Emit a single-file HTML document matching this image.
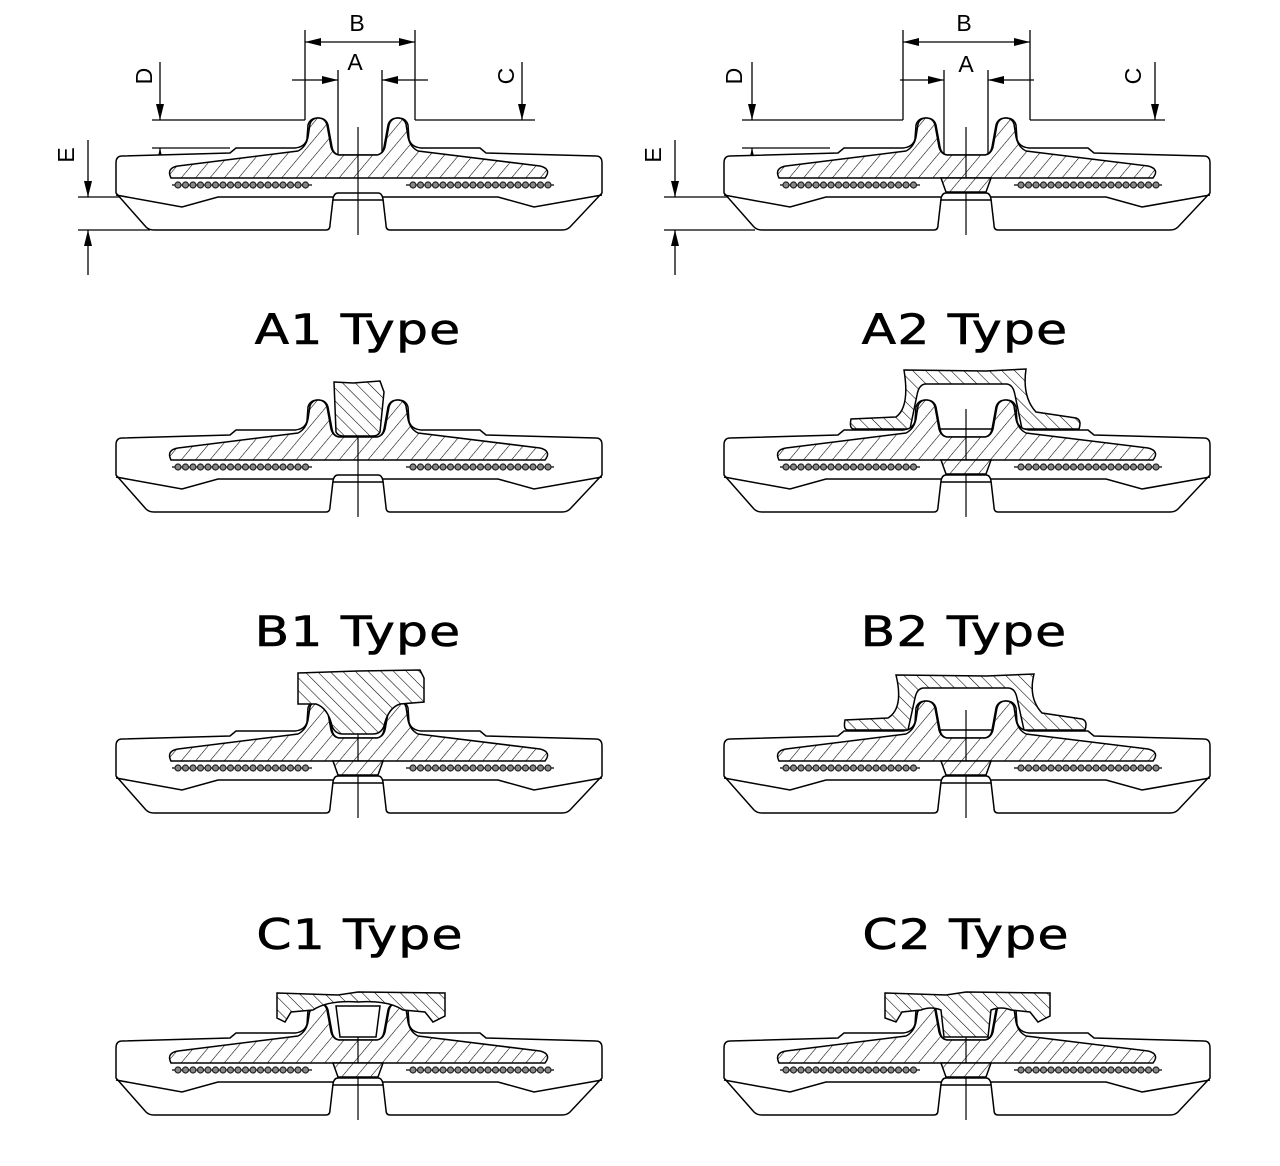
<!DOCTYPE html>
<html><head><meta charset="utf-8"><style>
html,body{margin:0;padding:0;background:#fff}
svg{display:block}
text{font-family:"Liberation Sans",Arial,sans-serif;fill:#000}
.t{font-family:"DejaVu Sans",sans-serif}
</style></head><body>
<svg width="1280" height="1166" viewBox="0 0 1280 1166" xmlns="http://www.w3.org/2000/svg">
<defs>
<pattern id="h1" patternUnits="userSpaceOnUse" width="11" height="11" patternTransform="rotate(40)">
<rect width="11" height="11" fill="#fff"/><line x1="0" y1="0" x2="0" y2="11" stroke="#000" stroke-width="1.1"/></pattern>
<pattern id="h2" patternUnits="userSpaceOnUse" width="9" height="9" patternTransform="rotate(-45)">
<rect width="9" height="9" fill="#fff"/><line x1="0" y1="0" x2="0" y2="9" stroke="#000" stroke-width="1.1"/></pattern>
<g id="cords">
<line x1="-186" y1="30" x2="-46" y2="30" stroke="#000" stroke-width="1.3"/>
<line x1="48" y1="30" x2="196" y2="30" stroke="#000" stroke-width="1.3"/>
<g fill="#888" stroke="#222" stroke-width="1.2">
<circle cx="-180" cy="30" r="3"/><circle cx="-172.5" cy="30" r="3"/><circle cx="-165" cy="30" r="3"/><circle cx="-157.5" cy="30" r="3"/><circle cx="-150" cy="30" r="3"/><circle cx="-142.5" cy="30" r="3"/><circle cx="-135" cy="30" r="3"/><circle cx="-127.5" cy="30" r="3"/><circle cx="-120" cy="30" r="3"/><circle cx="-112.5" cy="30" r="3"/><circle cx="-105" cy="30" r="3"/><circle cx="-97.5" cy="30" r="3"/><circle cx="-90" cy="30" r="3"/><circle cx="-82.5" cy="30" r="3"/><circle cx="-75" cy="30" r="3"/><circle cx="-67.5" cy="30" r="3"/><circle cx="-60" cy="30" r="3"/><circle cx="-52.5" cy="30" r="3"/>
<circle cx="55" cy="30" r="3"/><circle cx="62.5" cy="30" r="3"/><circle cx="70" cy="30" r="3"/><circle cx="77.5" cy="30" r="3"/><circle cx="85" cy="30" r="3"/><circle cx="92.5" cy="30" r="3"/><circle cx="100" cy="30" r="3"/><circle cx="107.5" cy="30" r="3"/><circle cx="115" cy="30" r="3"/><circle cx="122.5" cy="30" r="3"/><circle cx="130" cy="30" r="3"/><circle cx="137.5" cy="30" r="3"/><circle cx="145" cy="30" r="3"/><circle cx="152.5" cy="30" r="3"/><circle cx="160" cy="30" r="3"/><circle cx="167.5" cy="30" r="3"/><circle cx="175" cy="30" r="3"/><circle cx="182.5" cy="30" r="3"/><circle cx="190" cy="30" r="3"/>
</g></g>
<g id="base" stroke="#000" stroke-width="1.5">
<path fill="#fff" d="M0,0 L-20,0 Q-25,-2 -26,-8 L-30,-30 Q-32,-37 -40,-37 Q-48,-37 -50,-30 L-51,-16 Q-53,-8 -63,-7 L-122,-7 L-128,-2 L-236,1 Q-242,1 -242,8 L-242,38 L-212,72 Q-209,75 -204,75 L-32,75 Q-28,75 -28,70 L-25,44 Q-24,38 -20,38 L20,38 Q24,38 25,44 L28,70 Q28,75 32,75 L204,75 Q209,75 212,72 L244,38 L244,8 Q244,1 238,1 L128,-2 L122,-7 L63,-7 Q53,-8 51,-16 L50,-30 Q48,-37 40,-37 Q32,-37 30,-30 L26,-8 Q25,-2 20,0 Z"/>
<path fill="none" d="M-242,40 L-176,52 L-140,42 L-25,42 M25,42 L140,42 L176,52 L244,40 M-25,45 L25,45"/>
<path fill="url(#h1)" d="M-19,0 Q-25,-1 -27,-8 L-31,-30 Q-33,-37 -40,-37 Q-46,-37 -48,-31 L-50,-18 Q-52,-8 -60,-4 L-180,11 Q-192,13 -187,23 L187,23 Q194,14 182,11 L60,-4 Q52,-8 50,-18 L48,-31 Q46,-37 40,-37 Q33,-37 31,-30 L27,-8 Q25,-1 19,0 Z"/>
<use href="#cords"/>
<line x1="0" y1="-28" x2="0" y2="80" stroke-width="1.2"/>
</g>
<g id="base2" stroke="#000" stroke-width="1.5">
<use href="#base"/>
<path fill="url(#h1)" d="M-25,23 L25,23 L20,37 L-20,37 Z"/>
</g>
<marker id="ar" markerWidth="16" markerHeight="8" refX="16" refY="4" orient="auto" markerUnits="userSpaceOnUse"><path d="M0,0 L16,4 L0,8 Z" fill="#000"/></marker>
</defs>

<g stroke="#000" stroke-width="1.3" fill="none">
<line x1="305" y1="30" x2="305" y2="120"/><line x1="415" y1="30" x2="415" y2="120"/>
<line x1="330" y1="42" x2="305" y2="42" marker-end="url(#ar)"/><line x1="390" y1="42" x2="415" y2="42" marker-end="url(#ar)"/><line x1="330" y1="42" x2="390" y2="42"/>
<line x1="338" y1="70" x2="338" y2="155"/><line x1="382" y1="70" x2="382" y2="155"/>
<line x1="292" y1="80" x2="338" y2="80" marker-end="url(#ar)"/><line x1="428" y1="80" x2="382" y2="80" marker-end="url(#ar)"/>
<line x1="152" y1="120" x2="305" y2="120"/><line x1="152" y1="148" x2="230" y2="148"/>
<line x1="160" y1="62" x2="160" y2="120" marker-end="url(#ar)"/><line x1="160" y1="192" x2="160" y2="148" marker-end="url(#ar)"/>
<line x1="415" y1="120" x2="535" y2="120"/><line x1="470" y1="155" x2="530" y2="155"/>
<line x1="522" y1="62" x2="522" y2="120" marker-end="url(#ar)"/><line x1="522" y1="195" x2="522" y2="155" marker-end="url(#ar)"/>
<line x1="78" y1="197" x2="160" y2="197"/><line x1="78" y1="230" x2="150" y2="230"/>
<line x1="88" y1="140" x2="88" y2="197" marker-end="url(#ar)"/><line x1="88" y1="275" x2="88" y2="230" marker-end="url(#ar)"/>
<line x1="903" y1="30" x2="903" y2="120"/><line x1="1030" y1="30" x2="1030" y2="120"/>
<line x1="930" y1="42" x2="903" y2="42" marker-end="url(#ar)"/><line x1="1000" y1="42" x2="1030" y2="42" marker-end="url(#ar)"/><line x1="930" y1="42" x2="1000" y2="42"/>
<line x1="944" y1="70" x2="944" y2="155"/><line x1="988" y1="70" x2="988" y2="155"/>
<line x1="900" y1="80" x2="944" y2="80" marker-end="url(#ar)"/><line x1="1034" y1="80" x2="988" y2="80" marker-end="url(#ar)"/>
<line x1="742" y1="120" x2="903" y2="120"/><line x1="742" y1="148" x2="830" y2="148"/>
<line x1="752" y1="62" x2="752" y2="120" marker-end="url(#ar)"/><line x1="752" y1="192" x2="752" y2="148" marker-end="url(#ar)"/>
<line x1="1030" y1="120" x2="1165" y2="120"/><line x1="1080" y1="155" x2="1160" y2="155"/>
<line x1="1155" y1="62" x2="1155" y2="120" marker-end="url(#ar)"/><line x1="1155" y1="195" x2="1155" y2="155" marker-end="url(#ar)"/>
<line x1="664" y1="197" x2="760" y2="197"/><line x1="664" y1="230" x2="755" y2="230"/>
<line x1="675" y1="140" x2="675" y2="197" marker-end="url(#ar)"/><line x1="675" y1="275" x2="675" y2="230" marker-end="url(#ar)"/>
</g>
<g font-size="23">
<text x="357" y="31" text-anchor="middle">B</text>
<text x="355" y="70" text-anchor="middle">A</text>
<text x="964" y="31" text-anchor="middle">B</text>
<text x="966" y="72" text-anchor="middle">A</text>
<text transform="translate(152,76) rotate(-90)" text-anchor="middle">D</text>
<text transform="translate(514,76) rotate(-90)" text-anchor="middle">C</text>
<text transform="translate(74,155) rotate(-90)" text-anchor="middle">E</text>
<text transform="translate(742,76) rotate(-90)" text-anchor="middle">D</text>
<text transform="translate(1141,76) rotate(-90)" text-anchor="middle">C</text>
<text transform="translate(661,155) rotate(-90)" text-anchor="middle">E</text>
</g>
<use href="#base" transform="translate(358,155)"/>
<use href="#base2" transform="translate(966,155)"/>

<g class="t" font-size="42" stroke="#000" stroke-width="0.6" text-anchor="middle" letter-spacing="1">
<text class="t" transform="translate(358,344) scale(1.2,1)">A1 Type</text>
<text class="t" transform="translate(965,344) scale(1.2,1)">A2 Type</text>
<text class="t" transform="translate(358,646) scale(1.2,1)">B1 Type</text>
<text class="t" transform="translate(964,646) scale(1.2,1)">B2 Type</text>
<text class="t" transform="translate(360,949) scale(1.2,1)">C1 Type</text>
<text class="t" transform="translate(966,949) scale(1.2,1)">C2 Type</text>
</g>

<g transform="translate(358,437)" stroke="#000" stroke-width="1.5">
<use href="#base"/>
<path fill="url(#h2)" d="M-24,-55 L-5,-54 L22,-56 L26,-45 L22,-5 Q20,-1 15,-1 L-15,-1 Q-20,-1 -22,-5 Z"/>
</g>
<g transform="translate(966,437)" stroke="#000" stroke-width="1.5">
<path fill="url(#h2)" fill-rule="evenodd" d="M-62,-67 L20,-66 L60,-68 Q56,-40 70,-25 L110,-19 Q116,-17 113,-8 L-112,-8 Q-117,-8 -115,-18 L-70,-20 Q-56,-30 -62,-67 Z M-40,-53 L40,-53 Q47,-53 49,-42 L56,-8 L-56,-8 L-49,-42 Q-47,-53 -40,-53 Z"/>
<use href="#base2"/>
</g>
<g transform="translate(358,738)" stroke="#000" stroke-width="1.5">
<use href="#base2"/>
<path fill="url(#h2)" d="M-60,-65 L0,-67 L62,-68 L66,-60 L66,-36 L42,-34 Q30,-30 26,-12 Q23,-4 15,-4 L-15,-4 Q-23,-4 -26,-12 Q-30,-30 -42,-34 L-60,-34 Z"/>
</g>
<g transform="translate(966,738)" stroke="#000" stroke-width="1.5">
<path fill="url(#h2)" fill-rule="evenodd" d="M-70,-63 L20,-62 L68,-64 Q62,-40 76,-25 L116,-19 Q122,-17 119,-8 L-118,-8 Q-123,-8 -121,-18 L-78,-20 Q-62,-30 -70,-63 Z M-42,-50 L42,-50 Q49,-50 51,-40 L58,-8 L-58,-8 L-51,-40 Q-49,-50 -42,-50 Z"/>
<use href="#base2"/>
</g>
<g transform="translate(358,1040)" stroke="#000" stroke-width="1.5">
<use href="#base2"/>
<path fill="url(#h2)" d="M-81,-47 L-20,-45 L0,-48 L87,-47 L87,-24 L75,-18 L67,-28 L45,-30 Q30,-40 0,-38 Q-30,-40 -45,-30 L-67,-28 L-73,-18 L-81,-22 Z"/>
<path fill="#fff" d="M-22,-34 L22,-34 L18,-3 L-18,-3 Z"/>
</g>
<g transform="translate(966,1040)" stroke="#000" stroke-width="1.5">
<use href="#base2"/>
<path fill="url(#h2)" d="M-81,-47 L-20,-45 L0,-48 L84,-47 L84,-24 L72,-18 L64,-28 L45,-30 Q35,-34 25,-30 L22,-3 L-22,-3 L-25,-30 Q-35,-34 -45,-30 L-64,-28 L-70,-18 L-81,-22 Z"/>
</g>
</svg>
</body></html>
